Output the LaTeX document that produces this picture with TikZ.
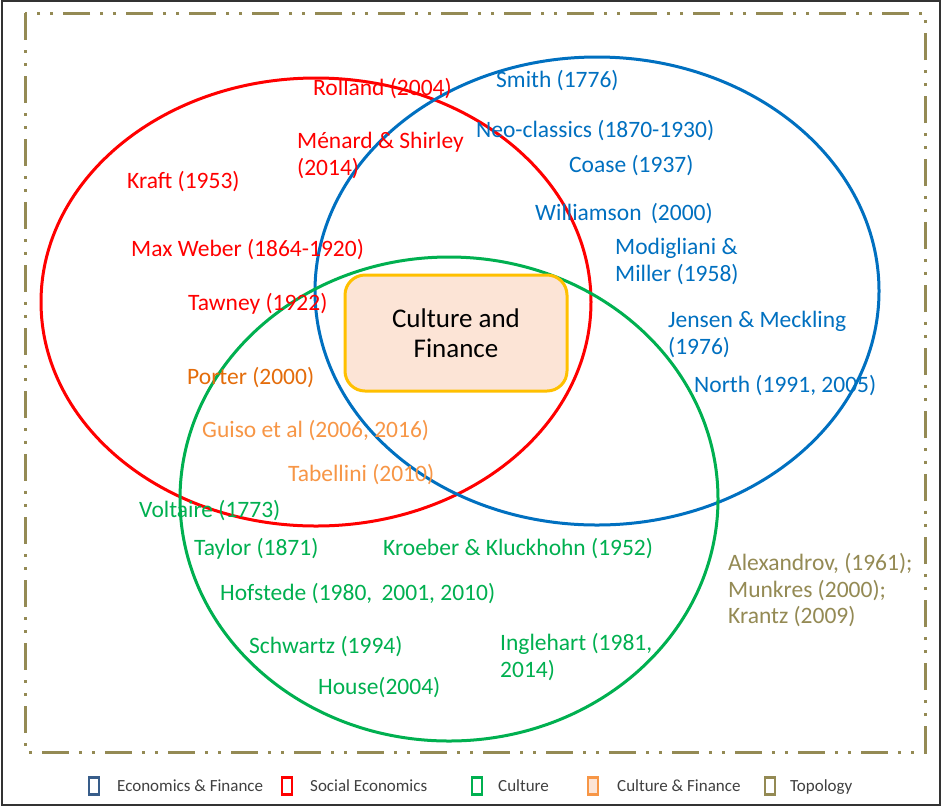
\documentclass[tikz,border=0pt]{standalone}
\usepackage{fontspec}
\setmainfont{Carlito}
\definecolor{cred}{HTML}{FF0000}
\definecolor{cblue}{HTML}{0070C0}
\definecolor{cgreen}{HTML}{00B050}
\definecolor{corange}{HTML}{E46C0A}
\definecolor{clorange}{HTML}{F79646}
\definecolor{colive}{HTML}{948A54}
\definecolor{cgold}{HTML}{FFC000}
\definecolor{cpeach}{HTML}{FCE4D6}
\definecolor{clegblue}{HTML}{385D8A}
\begin{document}
\begin{tikzpicture}[x=1pt,y=-1pt,
  lab/.style={anchor=west,inner sep=0pt,yshift=-1.5pt,font=\fontsize{23.5}{27}\selectfont,align=left},
  redt/.style={lab,text=cred},
  bluet/.style={lab,text=cblue},
  greent/.style={lab,text=cgreen},
  venn/.style={line width=3pt},
  legbox/.style={line width=2.6pt,minimum width=10pt,minimum height=17pt,inner sep=0pt,fill=white},
  legtext/.style={anchor=west,inner sep=0pt,yshift=-1.5pt,text=black!75,text height=11pt,text depth=3.5pt,font=\fontsize{17}{20}\selectfont}]
\useasboundingbox (0,0) rectangle (942,807);
\fill[white] (0,0) rectangle (942,807);
\draw[line width=1.5pt,black!80] (2,1) rectangle (940,805);
\draw[colive,line width=3pt,dash pattern=on 27pt off 10pt on 3pt off 10pt on 3pt off 10pt] (25,13) rectangle (925,752);
% ellipses
\draw[venn,cred] (316,302) ellipse [x radius=275pt, y radius=224pt];
\draw[venn,cblue] (597,291) ellipse [x radius=282pt, y radius=234pt];
\draw[venn,cgreen] (449,499) ellipse [x radius=269pt, y radius=242pt];
% central box
\node[draw=cgold,line width=3pt,fill=cpeach,rounded corners=20pt,minimum width=222pt,minimum height=116pt,
  align=center,font=\fontsize{27}{30}\selectfont] (cf) at (456,333) {Culture and\\Finance};
% red labels
\node[redt] (rolland) at (313,87) {Rolland (2004)};
\node[redt] (menard) at (297,154) {Ménard \& Shirley\\(2014)};
\node[redt] (kraft) at (127,180) {Kraft (1953)};
\node[redt] (weber) at (131,248) {Max Weber (1864-1920)};
\node[redt] (tawney) at (188,302) {Tawney (1922)};
% orange labels
\node[lab,text=corange] (porter) at (187,376) {Porter (2000)};
\node[lab,text=clorange] (guiso) at (202,429) {Guiso et al (2006, 2016)};
\node[lab,text=clorange] (tabellini) at (288,473) {Tabellini (2010)};
% green labels
\node[greent] (voltaire) at (139,509) {Voltaire (1773)};
\node[greent] (taylor) at (194,547) {Taylor (1871)};
\node[greent] (kroeber) at (383,547) {Kroeber \& Kluckhohn (1952)};
\node[greent] (hofstede) at (220,592) {Hofstede (1980,\, 2001, 2010)};
\node[greent] (schwartz) at (249,645) {Schwartz (1994)};
\node[greent] (house) at (318,686) {House(2004)};
\node[greent] (inglehart) at (500,656) {Inglehart (1981,\\2014)};
% blue labels
\node[bluet] (smith) at (496,79) {Smith (1776)};
\node[bluet] (neo) at (476,129) {Neo-classics (1870-1930)};
\node[bluet] (coase) at (569,164) {Coase (1937)};
\node[bluet] (williamson) at (535,212) {Williamson\, (2000)};
\node[bluet] (modigliani) at (615,259.5) {Modigliani \&\\Miller (1958)};
\node[bluet] (jensen) at (668,332.5) {Jensen \& Meckling\\(1976)};
\node[bluet] (north) at (694,384) {North (1991, 2005)};
% topology
\node[lab,text=colive,font=\fontsize{23.5}{26.5}\selectfont] (topo) at (728,589) {Alexandrov, (1961);\\Munkres (2000);\\Krantz (2009)};
% legend
\node[legbox,draw=clegblue] (lb1) at (94,786) {};
\node[legtext] (lt1) at (117,786) {Economics \& Finance};
\node[legbox,draw=cred] (lb2) at (287,786) {};
\node[legtext] (lt2) at (310,786) {Social Economics};
\node[legbox,draw=cgreen] (lb3) at (477,786) {};
\node[legtext] (lt3) at (498,786) {Culture};
\node[legbox,draw=clorange,fill=cpeach] (lb4) at (593,786) {};
\node[legtext] (lt4) at (617,786) {Culture \& Finance};
\node[legbox,draw=colive] (lb5) at (770,786) {};
\node[legtext] (lt5) at (790,786) {Topology};
\end{tikzpicture}
\end{document}
